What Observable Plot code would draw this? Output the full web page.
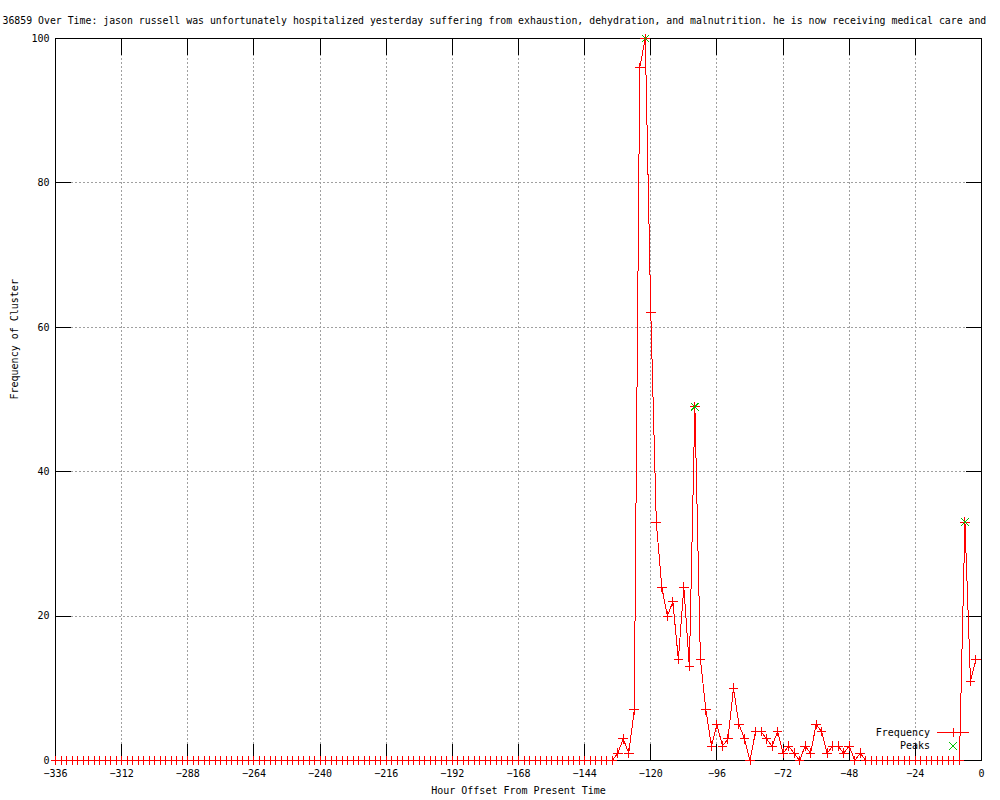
<!DOCTYPE html>
<html><head><meta charset="utf-8">
<script src="https://cdn.jsdelivr.net/npm/d3@7"></script>
<script src="https://cdn.jsdelivr.net/npm/@observablehq/plot@0.6"></script>
<style>body{margin:0;background:#fff;} #chart{position:relative;width:1000px;height:800px;overflow:hidden;}</style>
</head><body><div id="chart"></div>
<script>
const hours = [
  -336,-334,-332,-330,-328,-326,-324,-322,-320,-318,-316,-314,
  -312,-310,-308,-306,-304,-302,-300,-298,-296,-294,-292,-290,
  -288,-286,-284,-282,-280,-278,-276,-274,-272,-270,-268,-266,
  -264,-262,-260,-258,-256,-254,-252,-250,-248,-246,-244,-242,
  -240,-238,-236,-234,-232,-230,-228,-226,-224,-222,-220,-218,
  -216,-214,-212,-210,-208,-206,-204,-202,-200,-198,-196,-194,
  -192,-190,-188,-186,-184,-182,-180,-178,-176,-174,-172,-170,
  -168,-166,-164,-162,-160,-158,-156,-154,-152,-150,-148,-146,
  -144,-142,-140,-138,-136,-134,-132,-130,-128,-126,-124,-122,
  -120,-118,-116,-114,-112,-110,-108,-106,-104,-102,-100,-98,
  -96,-94,-92,-90,-88,-86,-84,-82,-80,-78,-76,-74,
  -72,-70,-68,-66,-64,-62,-60,-58,-56,-54,-52,-50,
  -48,-46,-44,-42,-40,-38,-36,-34,-32,-30,-28,-26,
  -24,-22,-20,-18,-16,-14,-12,-10,-8,-6,-4,-2
];
const frequency = [
  0,0,0,0,0,0,0,0,0,0,0,0,
  0,0,0,0,0,0,0,0,0,0,0,0,
  0,0,0,0,0,0,0,0,0,0,0,0,
  0,0,0,0,0,0,0,0,0,0,0,0,
  0,0,0,0,0,0,0,0,0,0,0,0,
  0,0,0,0,0,0,0,0,0,0,0,0,
  0,0,0,0,0,0,0,0,0,0,0,0,
  0,0,0,0,0,0,0,0,0,0,0,0,
  0,0,0,0,0,0,1,3,1,7,96,100,
  62,33,24,20,22,14,24,13,49,14,7,2,
  5,2,3,10,5,3,0,4,4,3,2,4,
  1,2,1,0,2,1,5,4,1,2,2,1,
  2,0,1,0,0,0,0,0,0,0,0,0,
  0,0,0,0,0,0,0,0,0,33,11,14
];
const peakHours = [-122, -104, -6];
const peakValues = [100, 49, 33];
const xTicks = [-336,-312,-288,-264,-240,-216,-192,-168,-144,-120,-96,-72,-48,-24,0];
const yTicks = [0,20,40,60,80,100];
const titleText = "36859 Over Time: jason russell was unfortunately hospitalized yesterday suffering from exhaustion, dehydration, and malnutrition. he is now receiving medical care and";
const xLabel = "Hour Offset From Present Time";
const yLabel = "Frequency of Cluster";
const legendLabels = ["Frequency", "Peaks"];

const series = hours.map((h, i) => ({hour: h, freq: frequency[i]}));
const peaks = peakHours.map((h, i) => ({hour: h, freq: peakValues[i]}));
const font = "'DejaVu Sans Mono', monospace";
const grid = {stroke: "#a0a0a0", strokeOpacity: 1, strokeDasharray: "2,2"};

const chart = Plot.plot({
  width: 1000, height: 800,
  marginLeft: 55, marginRight: 19, marginTop: 38, marginBottom: 40,
  style: {fontFamily: font, fontSize: "10px", background: "#fff", color: "#000", shapeRendering: "crispEdges"},
  x: {domain: [-336, 0], nice: false},
  y: {domain: [0, 100], nice: false},
  marks: [
    Plot.gridX(xTicks.slice(1, -1), grid),
    Plot.gridY(yTicks.slice(1, -1), grid),
    Plot.axisX(xTicks, {anchor: "bottom", tickSize: -16, tickFormat: () => "", label: null}),
    Plot.axisX(xTicks, {anchor: "top", tickSize: -16, tickFormat: () => "", label: null}),
    Plot.axisY(yTicks, {anchor: "left", tickSize: -16, tickFormat: () => "", label: null}),
    Plot.axisY(yTicks, {anchor: "right", tickSize: -16, tickFormat: () => "", label: null}),
    Plot.axisX(xTicks, {anchor: "bottom", tickSize: 0, tickPadding: 9, label: null}),
    Plot.axisY(yTicks, {anchor: "left", tickSize: 0, tickPadding: 6, label: null}),
    Plot.frame({stroke: "#000"}),
    Plot.line(series, {x: "hour", y: "freq", stroke: "#ff0000", strokeWidth: 1}),
    Plot.dot(series, {x: "hour", y: "freq", symbol: "plus", r: 3.2, stroke: "#ff0000", strokeWidth: 1}),
    Plot.dot(peaks, {x: "hour", y: "freq", symbol: "times", r: 3.5, stroke: "#00c000", strokeWidth: 1}),
    Plot.text([titleText], {frameAnchor: "top-left", textAnchor: "start", dx: -53, dy: -22, fontSize: 9.85}),
    Plot.text([xLabel], {frameAnchor: "bottom", dy: 33}),
    Plot.text([yLabel], {frameAnchor: "left", rotate: -90, dx: -41})
  ]
});
document.getElementById("chart").appendChild(chart);

// legend (gnuplot-style, bottom right inside the frame)
const svg = d3.select(chart);
const lg = svg.append("g").attr("font-family", font).attr("font-size", 10);
lg.append("text").attr("x", 930).attr("y", 733).attr("dy", "0.32em").attr("text-anchor", "end").text(legendLabels[0]);
lg.append("text").attr("x", 930).attr("y", 746).attr("dy", "0.32em").attr("text-anchor", "end").text(legendLabels[1]);
lg.append("line").attr("x1", 937).attr("x2", 969).attr("y1", 732.5).attr("y2", 732.5).attr("stroke", "#ff0000");
const r2s = r => Math.PI * r * r;
lg.append("path").attr("transform", "translate(953,732.5)").attr("d", d3.symbol(d3.symbolPlus, r2s(3.2))()).attr("fill", "none").attr("stroke", "#ff0000");
lg.append("path").attr("transform", "translate(953,746)").attr("d", d3.symbol(d3.symbolTimes, r2s(3.5))()).attr("fill", "none").attr("stroke", "#00c000");
</script>
</body></html>
